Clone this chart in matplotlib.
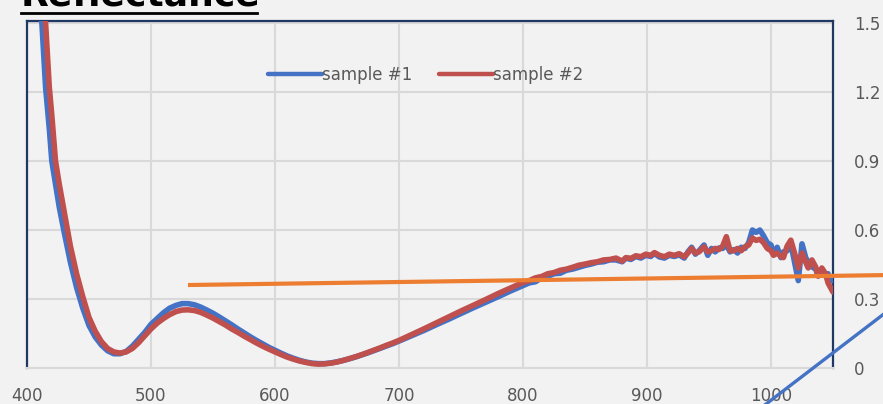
import matplotlib
matplotlib.use("Agg")
import matplotlib.pyplot as plt
from matplotlib.lines import Line2D

# wavelength (nm) and reflectance for both samples
wavelength = [410, 412, 415, 418, 420, 423, 426, 430, 435, 440, 445, 450, 455, 460, 465,
              470, 475, 480, 485, 490, 495, 500, 505, 510, 515, 520, 525, 530, 535, 540,
              545, 550, 555, 560, 565, 570, 575, 580, 585, 590, 595, 600, 605, 610, 615,
              620, 625, 630, 635, 640, 645, 650, 655, 660, 665, 670, 675, 680, 685, 690,
              695, 700, 710, 720, 730, 740, 750, 760, 770, 780, 790, 800, 805, 810, 815,
              820, 825, 830, 835, 840, 845, 850, 855, 860, 865, 870, 875, 880, 883, 887,
              891, 895, 899, 903, 906, 910, 914, 918, 922, 926, 930, 933, 936, 939, 942,
              946, 949, 952, 955, 958, 961, 964, 967, 970, 973, 976, 979, 982, 985, 988,
              991, 994, 997, 1000, 1002, 1005, 1008, 1010, 1013, 1016, 1019, 1022, 1025, 1028, 1030,
              1033, 1036, 1038, 1041, 1044, 1046, 1048, 1050]

sample1 = [1.56, 1.50, 1.22, 1.04, 0.90, 0.80, 0.70, 0.59, 0.46, 0.35, 0.26, 0.185, 0.135, 0.10, 0.075,
           0.062, 0.062, 0.072, 0.095, 0.125, 0.155, 0.19, 0.215, 0.24, 0.26, 0.272, 0.28, 0.28, 0.275, 0.265,
           0.252, 0.238, 0.222, 0.205, 0.188, 0.17, 0.153, 0.136, 0.12, 0.105, 0.09, 0.077, 0.064, 0.052, 0.042,
           0.033, 0.026, 0.021, 0.019, 0.019, 0.022, 0.027, 0.033, 0.04, 0.048, 0.057, 0.066, 0.076, 0.086, 0.096,
           0.106, 0.117, 0.14, 0.163, 0.188, 0.212, 0.237, 0.262, 0.286, 0.31, 0.335, 0.358, 0.37, 0.375, 0.392,
           0.398, 0.41, 0.412, 0.425, 0.43, 0.438, 0.446, 0.452, 0.46, 0.462, 0.47, 0.47, 0.462, 0.478, 0.472,
           0.485, 0.478, 0.49, 0.485, 0.498, 0.483, 0.478, 0.49, 0.485, 0.492, 0.478, 0.505, 0.525, 0.495, 0.51,
           0.535, 0.49, 0.52, 0.505, 0.522, 0.52, 0.535, 0.505, 0.515, 0.50, 0.525, 0.52, 0.545, 0.60, 0.59,
           0.60, 0.575, 0.545, 0.535, 0.50, 0.525, 0.48, 0.505, 0.51, 0.54, 0.46, 0.38, 0.54, 0.48, 0.46,
           0.44, 0.43, 0.40, 0.42, 0.40, 0.41, 0.38, 0.38]

sample2 = [1.80, 1.66, 1.50, 1.22, 1.10, 0.90, 0.80, 0.68, 0.53, 0.41, 0.31, 0.22, 0.16, 0.115, 0.085,
           0.07, 0.065, 0.07, 0.085, 0.11, 0.14, 0.17, 0.195, 0.215, 0.232, 0.245, 0.252, 0.253, 0.25, 0.242,
           0.23, 0.217, 0.202, 0.187, 0.17, 0.155, 0.139, 0.124, 0.109, 0.095, 0.082, 0.07, 0.058, 0.047, 0.038,
           0.03, 0.024, 0.019, 0.017, 0.018, 0.021, 0.026, 0.033, 0.041, 0.049, 0.058, 0.068, 0.078, 0.088, 0.099,
           0.109, 0.12, 0.145, 0.17, 0.196, 0.222, 0.248, 0.273, 0.298, 0.324, 0.348, 0.372, 0.38, 0.392, 0.398,
           0.41, 0.415, 0.425, 0.43, 0.438, 0.447, 0.452, 0.458, 0.462, 0.47, 0.472, 0.478, 0.465, 0.48, 0.477,
           0.488, 0.484, 0.495, 0.49, 0.502, 0.49, 0.484, 0.495, 0.49, 0.497, 0.484, 0.50, 0.52, 0.50, 0.505,
           0.527, 0.505, 0.51, 0.52, 0.515, 0.53, 0.571, 0.51, 0.51, 0.52, 0.51, 0.527, 0.535, 0.565, 0.555,
           0.56, 0.545, 0.52, 0.51, 0.49, 0.50, 0.485, 0.48, 0.53, 0.556, 0.50, 0.435, 0.50, 0.46, 0.435,
           0.47, 0.44, 0.40, 0.435, 0.41, 0.37, 0.35, 0.33]

x_ticks = [400, 500, 600, 700, 800, 900, 1000]
y_ticks = [0, 0.3, 0.6, 0.9, 1.2, 1.5]
y_labels = ["0", "0.3", "0.6", "0.9", "1.2", "1.5"]

# annotation lines drawn over the chart
trend_x = [531.5, 1092]
trend_y = [0.361, 0.404]
pointer_x = [994, 1092]
pointer_y = [-0.165, 0.239]

bg = "#F2F2F2"
grid_c = "#D9D9D9"
text_c = "#595959"
frame_c = "#1F3864"

fig = plt.figure(figsize=(8.83, 4.04), dpi=100, facecolor=bg)
ax = fig.add_axes([27 / 883, 36 / 404, 806 / 883, 347 / 404], facecolor=bg)

ax.plot(wavelength, sample1, color="#4472C4", lw=4, label="sample #1", solid_capstyle="round",
        solid_joinstyle="round", zorder=3)
ax.plot(wavelength, sample2, color="#C0504D", lw=4, label="sample #2", solid_capstyle="round",
        solid_joinstyle="round", zorder=4)

ax.set_xlim(400, 1050)
ax.set_ylim(0, 1.509)
ax.set_xticks(x_ticks)
ax.set_yticks(y_ticks)
ax.set_yticklabels(y_labels)
ax.yaxis.tick_right()
ax.tick_params(axis="x", length=0, pad=14, labelsize=12, labelcolor=text_c)
ax.tick_params(axis="y", length=0, pad=15, labelsize=12, labelcolor=text_c)
for lab in ax.get_yticklabels():
    lab.set_horizontalalignment("left")

ax.grid(True, color=grid_c, lw=1.5, zorder=0)
ax.set_axisbelow(True)
for side in ["left", "top", "right"]:
    ax.spines[side].set_color(frame_c)
    ax.spines[side].set_linewidth(1.6)
ax.spines["bottom"].set_color(grid_c)
ax.spines["bottom"].set_linewidth(1.5)

leg = ax.legend(loc="center", bbox_to_anchor=(0.495, 0.844), ncol=2, frameon=False,
                fontsize=12, labelcolor=text_c, handlelength=3.2, handletextpad=0.05,
                columnspacing=1.6)
for h in leg.get_lines():
    h.set_linewidth(3.2)

ax.plot(trend_x, trend_y, color="#ED7D31", lw=3, clip_on=False, zorder=5)
ax.plot(pointer_x, pointer_y, color="#4472C4", lw=2.4, clip_on=False, zorder=6)

# cut-off heading at the top left
fig.text(21 / 883, (404 - 6) / 404, "Reflectance", fontsize=26, fontweight="bold",
         color="black", va="baseline", ha="left")
fig.add_artist(Line2D([21 / 883, 257 / 883], [(404 - 13) / 404] * 2, color="black", lw=2,
                      transform=fig.transFigure))

fig.savefig("out.png", dpi=100, facecolor=bg)
